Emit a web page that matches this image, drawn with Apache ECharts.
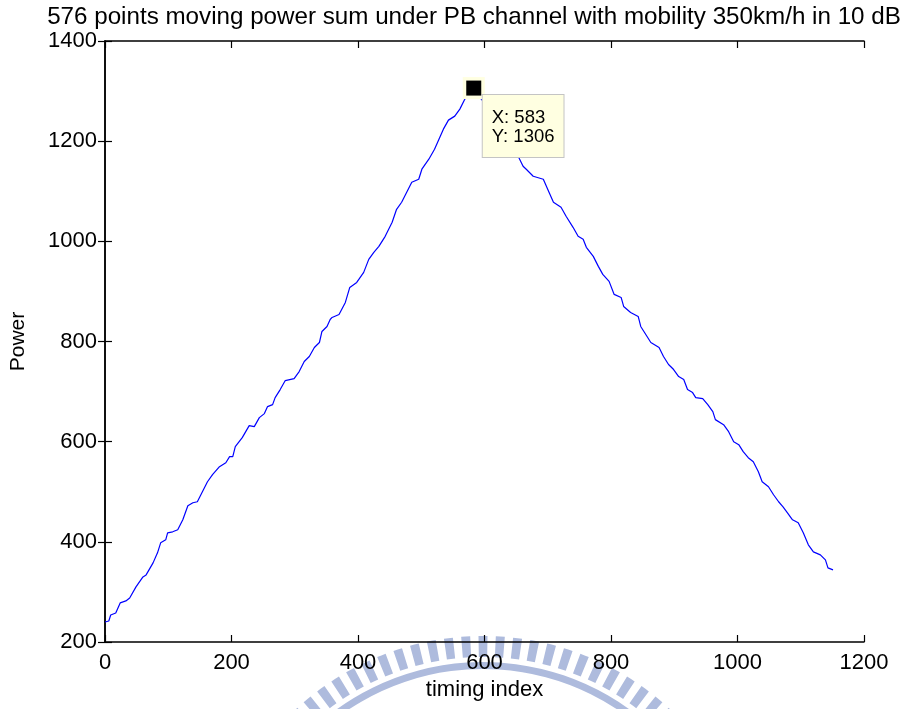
<!DOCTYPE html>
<html>
<head>
<meta charset="utf-8">
<script src="https://cdn.jsdelivr.net/npm/echarts@6/dist/echarts.min.js"></script>
<style>
html,body{margin:0;padding:0;background:#fff;}
#chart{width:901px;height:709px;}
</style>
</head>
<body>
<div id="chart"></div>
<script>
// ---- data ----
var titleText = '576 points moving power sum under PB channel with mobility 350km/h in 10 dB';
var xName = 'timing index';
var yName = 'Power';
var xTicks = [0, 200, 400, 600, 800, 1000, 1200];
var yTicks = [200, 400, 600, 800, 1000, 1200, 1400];
var timingIndex = [0,6,9,17,24,33,39,49,60,65,76,83,88,96,99,107,115,123,131,139,146,154,162,170,181,191,197,202,206,217,228,236,244,252,257,265,269,277,285,299,307,315,323,331,339,343,351,356,359,370,380,387,398,409,417,425,433,443,454,461,469,477,485,496,501,512,521,528,535,543,553,561,569,576,583,589,595,600,611,627,643,654,661,666,677,693,702,709,721,729,740,748,756,761,772,780,787,797,805,816,820,831,843,847,858,863,876,883,891,899,907,915,921,929,934,945,953,961,965,978,986,994,1002,1009,1017,1025,1033,1039,1049,1057,1065,1072,1079,1087,1096,1104,1112,1120,1131,1139,1143,1151];
var power = [240,242,254,258,278,282,288,310,330,334,358,378,398,404,418,420,424,444,472,478,480,500,520,534,550,558,570,570,590,608,632,630,648,656,670,674,688,704,722,726,740,760,770,788,798,820,830,844,848,854,878,908,918,938,964,978,990,1010,1038,1064,1078,1098,1118,1124,1144,1164,1184,1204,1224,1242,1250,1264,1284,1296,1306,1296,1284,1276,1244,1208,1184,1168,1150,1144,1130,1124,1098,1078,1068,1050,1028,1010,1004,988,970,950,934,920,894,888,870,858,850,830,808,798,788,770,754,744,730,724,704,698,688,686,674,660,644,634,620,600,594,580,568,560,540,520,510,494,480,470,458,444,438,418,394,380,374,364,348,344];
var datatip = {x: 583, y: 1306};

var seriesData = timingIndex.map(function (t, i) { return [t, power[i]]; });

// ---- watermark decoration ----
var wm = [];
var wmColor = '#aebbdd';
var cx = 483, cy = 912;
var step = 3.6 * Math.PI / 180;
for (var i = -13; i <= 13; i++) {
  var a = -Math.PI / 2 + i * step;
  wm.push({type: 'sector', silent: true, z: -10,
    shape: {cx: cx, cy: cy, r0: 255, r: 276, startAngle: a - step * 0.26, endAngle: a + step * 0.26},
    style: {fill: wmColor}});
}
wm.push({type: 'sector', silent: true, z: -10,
  shape: {cx: cx, cy: cy, r0: 243, r: 250, startAngle: -Math.PI / 2 - 0.85, endAngle: -Math.PI / 2 + 0.85},
  style: {fill: wmColor}});

var font = 'Liberation Sans, Arial, Helvetica, sans-serif';
function plain(v) { return String(v); }
var axisCommon = {
  type: 'value',
  axisLine: {show: true, lineStyle: {color: '#000', width: 1.5}},
  axisTick: {show: true, inside: true, length: 7, lineStyle: {color: '#000', width: 1.2}},
  splitLine: {show: false}
};

var chart = echarts.init(document.getElementById('chart'), null, {renderer: 'canvas'});
chart.setOption({
  backgroundColor: '#fff',
  animation: false,
  title: {
    text: titleText, left: 469, top: 0, textAlign: 'center',
    textStyle: {fontFamily: font, fontSize: 24.2, fontWeight: 'normal', color: '#000'}
  },
  graphic: wm,
  grid: {left: 102, top: 41, right: 37, bottom: 67, containLabel: false},
  xAxis: [
    Object.assign({}, axisCommon, {
      position: 'bottom', min: xTicks[0], max: xTicks[xTicks.length - 1], interval: xTicks[1] - xTicks[0],
      name: xName, nameLocation: 'middle', nameGap: 37,
      nameTextStyle: {fontFamily: font, fontSize: 22, color: '#000'},
      axisLabel: {show: true, margin: 10, fontFamily: font, fontSize: 22, color: '#000', formatter: plain, showMinLabel: true, showMaxLabel: true}
    }),
    Object.assign({}, axisCommon, {
      position: 'top', min: xTicks[0], max: xTicks[xTicks.length - 1], interval: xTicks[1] - xTicks[0],
      axisLabel: {show: false}
    })
  ],
  yAxis: [
    Object.assign({}, axisCommon, {
      position: 'left', min: yTicks[0], max: yTicks[yTicks.length - 1], interval: yTicks[1] - yTicks[0],
      name: yName, nameLocation: 'middle', nameGap: 76, nameRotate: 90,
      nameTextStyle: {fontFamily: font, fontSize: 21, color: '#000'},
      axisLabel: {show: true, margin: 8, fontFamily: font, fontSize: 22, color: '#000', formatter: plain, showMinLabel: true, showMaxLabel: true}
    }),
    Object.assign({}, axisCommon, {
      position: 'right', min: yTicks[0], max: yTicks[yTicks.length - 1], interval: yTicks[1] - yTicks[0],
      axisLabel: {show: false}
    })
  ],
  series: [
    {
      type: 'line', data: seriesData, xAxisIndex: 0, yAxisIndex: 0,
      showSymbol: false, symbol: 'none', smooth: false,
      lineStyle: {color: '#0000ff', width: 1.2}, z: 2
    },
    {
      type: 'scatter', data: [[datatip.x, datatip.y]], symbol: 'rect', symbolSize: 22,
      itemStyle: {color: '#ffffe1', opacity: 1}, z: 10, silent: true,
      label: {
        show: true, position: [20, 18], align: 'left', verticalAlign: 'top',
        formatter: 'X: ' + datatip.x + '\nY: ' + datatip.y,
        fontFamily: font, fontSize: 18.5, lineHeight: 19, color: '#000',
        backgroundColor: '#ffffe1', borderColor: '#c4c4c4', borderWidth: 1,
        padding: [13, 9, 11, 9]
      }
    },
    {
      type: 'scatter', data: [[datatip.x, datatip.y]], symbol: 'rect', symbolSize: 15,
      itemStyle: {color: '#000', opacity: 1}, z: 11, silent: true
    }
  ]
});
</script>
</body>
</html>
